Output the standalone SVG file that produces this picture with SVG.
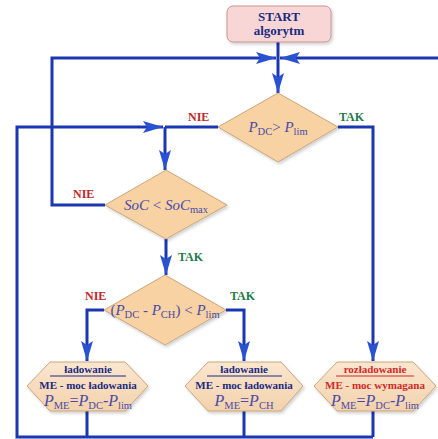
<svg xmlns="http://www.w3.org/2000/svg" width="438" height="439" viewBox="0 0 438 439">
<style>
.ln{fill:none;stroke:#1a36b0;stroke-width:3;stroke-linejoin:miter}
.dia{fill:#f8d2a2;stroke:#c9a67a;stroke-width:1}
.hex{fill:url(#hg);stroke:#c9a67a;stroke-width:1}
.lbl{font-family:"Liberation Serif",serif;font-weight:bold;font-size:12px}
.nie{fill:#c0282a}
.tak{fill:#1f7a4a}
.math{font-family:"Liberation Serif",serif;font-size:15px;fill:#4a4aa8}
.hm{font-size:16px}
.it{font-style:italic}
.sub{font-size:10.5px}
.ht{font-family:"Liberation Serif",serif;font-weight:bold;font-size:11px;text-anchor:middle}
.blue{fill:#1c2a80}
.red{fill:#d02a2a}
</style>
<defs>
<linearGradient id="hg" x1="0" y1="0" x2="0" y2="1">
<stop offset="0" stop-color="#fbe6cf"/>
<stop offset="1" stop-color="#f3d2ac"/>
</linearGradient>
<marker id="ar" viewBox="0 0 20 12" refX="20" refY="6" markerWidth="20" markerHeight="12" markerUnits="userSpaceOnUse" orient="auto">
<path d="M0,0 L20,6 L0,12 L4,6 Z" fill="#2a52d0"/>
</marker>
<filter id="sh" x="-10%" y="-10%" width="130%" height="130%">
<feDropShadow dx="1.5" dy="2" stdDeviation="1.5" flood-color="#000" flood-opacity="0.18"/>
</filter>
</defs>

<g id="connectors">
<path class="ln" d="M278,42 L278,93" marker-end="url(#ar)"/>
<path class="ln" d="M105,205 L52,205 L52,58 L276,58" marker-end="url(#ar)"/>
<path class="ln" d="M438,58 L280,58" marker-end="url(#ar)"/>
<path class="ln" d="M338,127 L373,127 L373,361" marker-end="url(#ar)"/>
<path class="ln" d="M218,127 L165,127"/>
<path class="ln" d="M87,411 L87,437 M244,411 L244,437 M373,411 L373,437"/>
<path class="ln" d="M373,437 L17,437 L17,127 L163,127" marker-end="url(#ar)"/>
<path class="ln" d="M165,127 L165,170" marker-end="url(#ar)"/>
<path class="ln" d="M166,239 L166,275" marker-end="url(#ar)"/>
<path class="ln" d="M104,310 L87,310 L87,361" marker-end="url(#ar)"/>
<path class="ln" d="M226,310 L244,310 L244,361" marker-end="url(#ar)"/>
</g>

<g id="labels">
<text class="lbl nie" x="188" y="121">NIE</text>
<text class="lbl tak" x="339" y="121">TAK</text>
<text class="lbl nie" x="73" y="198">NIE</text>
<text class="lbl tak" x="178" y="261">TAK</text>
<text class="lbl nie" x="85" y="300">NIE</text>
<text class="lbl tak" x="230" y="300">TAK</text>
</g>

<g id="start">
<rect x="227" y="6" width="104" height="36" rx="6" fill="#f9d6d6" stroke="#c99191" stroke-width="1" filter="url(#sh)"/>
<text class="ht blue" x="279" y="21" style="font-size:13px">START</text>
<text class="ht blue" x="279" y="35" style="font-size:13px">algorytm</text>
</g>

<g id="d1">
<polygon class="dia" points="278,93 338,127 278,162 218,127" filter="url(#sh)"/>
<text class="math" x="278" y="132" text-anchor="middle"><tspan class="it">P</tspan><tspan class="sub" dy="3">DC</tspan><tspan dy="-3">&gt; </tspan><tspan class="it">P</tspan><tspan class="sub" dy="3">lim</tspan></text>
</g>

<g id="d2">
<polygon class="dia" points="166,170 227,205 166,239 105,205" filter="url(#sh)"/>
<text class="math" x="166" y="210" text-anchor="middle"><tspan class="it">SoC</tspan> &lt; <tspan class="it">SoC</tspan><tspan class="sub" dy="3">max</tspan></text>
</g>

<g id="d3">
<polygon class="dia" points="165,275 226,310 165,345 104,310" filter="url(#sh)"/>
<text class="math" x="165" y="315" text-anchor="middle">(<tspan class="it">P</tspan><tspan class="sub" dy="3">DC</tspan><tspan dy="-3"> - </tspan><tspan class="it">P</tspan><tspan class="sub" dy="3">CH</tspan><tspan dy="-3">) &lt; </tspan><tspan class="it">P</tspan><tspan class="sub" dy="3">lim</tspan></text>
</g>

<g id="h1">
<polygon class="hex" points="27,386 50,362 125,362 148,386 125,411 50,411" filter="url(#sh)"/>
<text class="ht blue" x="88" y="373">ładowanie</text>
<line x1="50" y1="376" x2="126" y2="376" stroke="#1c2a80" stroke-width="1"/>
<text class="ht blue" x="88" y="389">ME - moc ładowania</text>
<text class="math hm" x="88" y="406" text-anchor="middle"><tspan class="it">P</tspan><tspan class="sub" dy="3">ME</tspan><tspan dy="-3">=</tspan><tspan class="it">P</tspan><tspan class="sub" dy="3">DC</tspan><tspan dy="-3">-</tspan><tspan class="it">P</tspan><tspan class="sub" dy="3">lim</tspan></text>
</g>

<g id="h2">
<polygon class="hex" points="185,386 208,362 281,362 303,386 281,411 208,411" filter="url(#sh)"/>
<text class="ht blue" x="244" y="373">ładowanie</text>
<line x1="207" y1="376" x2="282" y2="376" stroke="#1c2a80" stroke-width="1"/>
<text class="ht blue" x="244" y="389">ME - moc ładowania</text>
<text class="math hm" x="244" y="406" text-anchor="middle"><tspan class="it">P</tspan><tspan class="sub" dy="3">ME</tspan><tspan dy="-3">=</tspan><tspan class="it">P</tspan><tspan class="sub" dy="3">CH</tspan></text>
</g>

<g id="h3">
<polygon class="hex" points="314,386 337,362 413,362 436,386 413,411 337,411" filter="url(#sh)"/>
<text class="ht red" x="375" y="373">rozładowanie</text>
<line x1="336" y1="376" x2="414" y2="376" stroke="#d02a2a" stroke-width="1"/>
<text class="ht red" x="375" y="389">ME - moc wymagana</text>
<text class="math hm" x="375" y="406" text-anchor="middle"><tspan class="it">P</tspan><tspan class="sub" dy="3">ME</tspan><tspan dy="-3">=</tspan><tspan class="it">P</tspan><tspan class="sub" dy="3">DC</tspan><tspan dy="-3">-</tspan><tspan class="it">P</tspan><tspan class="sub" dy="3">lim</tspan></text>
</g>
</svg>
